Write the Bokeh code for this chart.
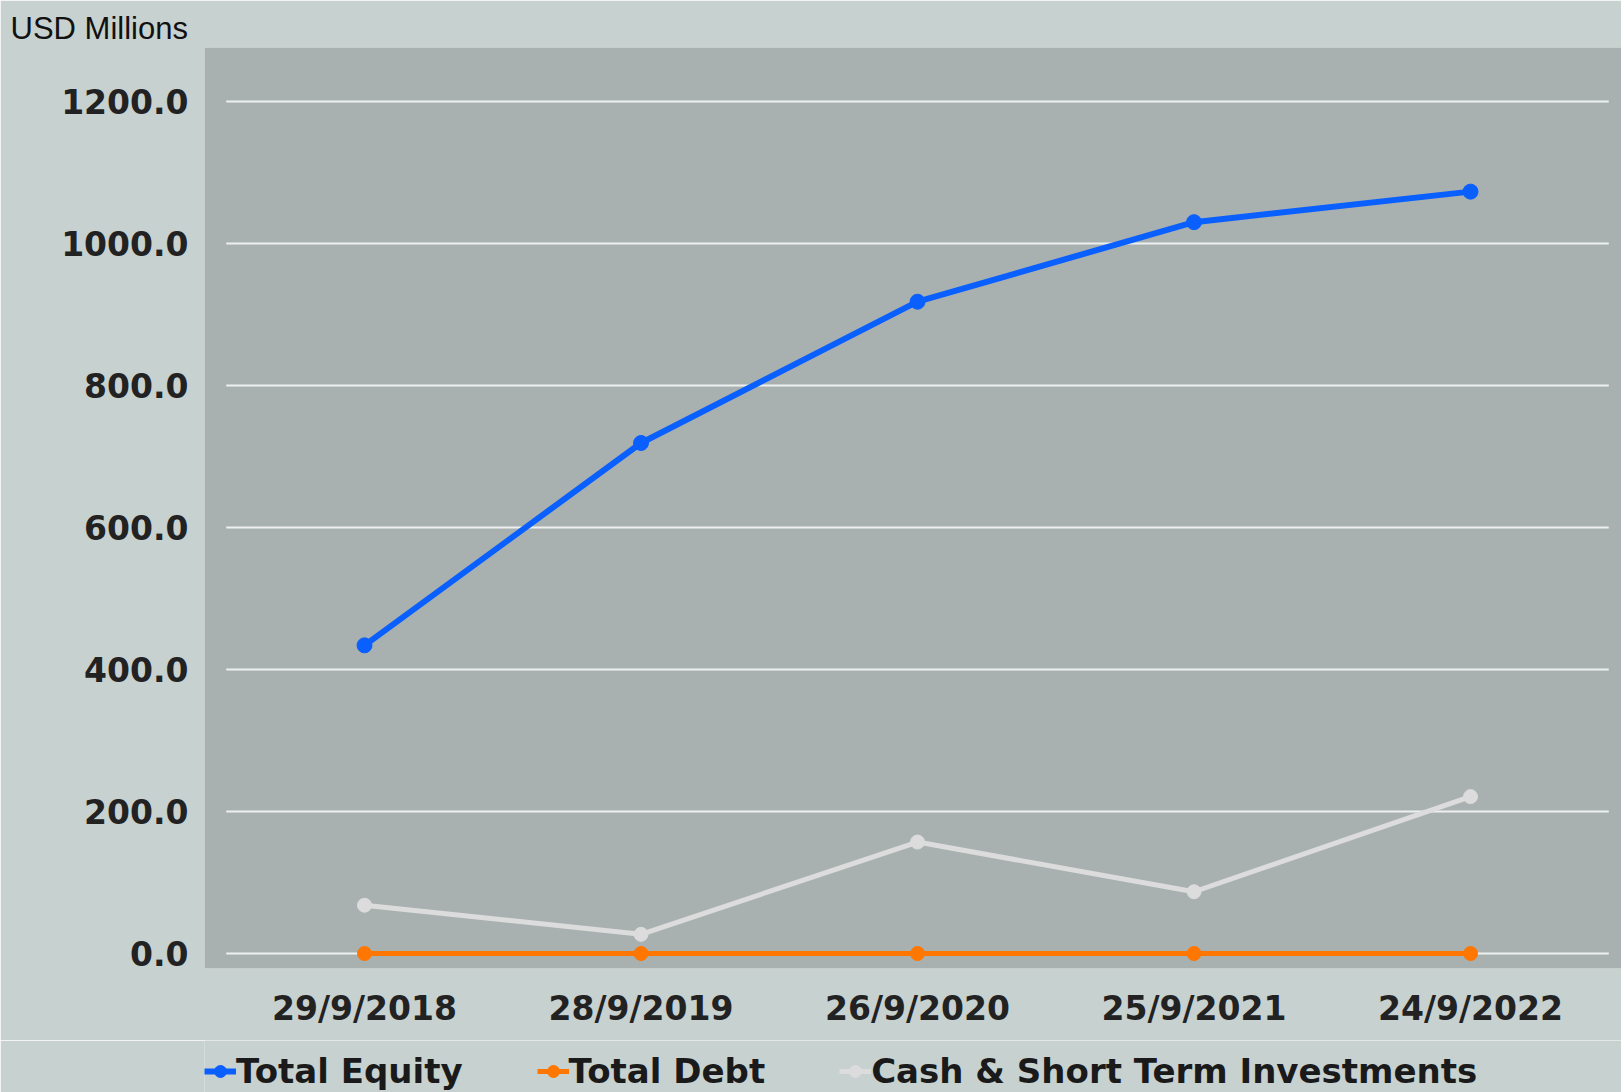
from bokeh.plotting import figure
from bokeh.layouts import column
from bokeh.models import Range1d, FixedTicker, NumeralTickFormatter, Legend, LegendItem
from bokeh.embed import file_html
from bokeh.resources import INLINE

dates = ["29/9/2018", "28/9/2019", "26/9/2020", "25/9/2021", "24/9/2022"]
total_equity = [434, 719, 918, 1030, 1073]
total_debt = [0, 0, 0, 0, 0]
cash_sti = [68, 27, 157, 87, 221]
y_ticks = [0, 200, 400, 600, 800, 1000, 1200]
series_names = ["Total Equity", "Total Debt", "Cash & Short Term Investments"]
series_colors = ["#0a5fff", "#ff7700", "#dcdcdc"]
series_values = [total_equity, total_debt, cash_sti]

OUTER = "#c7d1d0"
FONT = "DejaVu Sans"
xs = list(range(len(dates)))

p = figure(width=1621, height=1040, output_backend="svg", toolbar_location=None,
           x_range=Range1d(-0.5787, len(dates) - 1 + 0.546), y_range=Range1d(-21.1, 1276),
           min_border_left=204, min_border_right=0, min_border_top=47, min_border_bottom=72)
p.frame_width = 1417
p.frame_height = 921
p.border_fill_color = OUTER
p.background_fill_color = "#a9b1b0"
p.outline_line_color = None
p.xgrid.visible = False
p.ygrid.visible = False

p.title.text = "USD Millions"
p.title.align = "left"
p.title.offset = -194
p.title.text_font = "Liberation Sans"
p.title.text_font_style = "normal"
p.title.text_font_size = "31px"
p.title.text_color = "#111111"
p.title.standoff = 4

# gridlines spanning the category extent
p.segment(x0=[-0.5] * len(y_ticks), x1=[len(dates) - 0.5] * len(y_ticks), y0=y_ticks, y1=y_ticks,
          line_color="#eef0f0", line_width=2)

p.yaxis.ticker = FixedTicker(ticks=y_ticks)
p.yaxis.formatter = NumeralTickFormatter(format="0.0")
p.xaxis.ticker = FixedTicker(ticks=xs)
p.xaxis.major_label_overrides = {i: d for i, d in enumerate(dates)}
for ax in (p.xaxis[0], p.yaxis[0]):
    ax.axis_line_color = None
    ax.major_tick_line_color = None
    ax.minor_tick_line_color = None
    ax.major_tick_out = 0
    ax.major_tick_in = 0
    ax.major_label_text_font = FONT
    ax.major_label_text_font_style = "bold"
    ax.major_label_text_font_size = "33px"
    ax.major_label_text_color = "#222222"
p.yaxis.major_label_standoff = 16
p.xaxis.major_label_standoff = 20

widths = [6, 5, 5]
sizes = [15, 14, 14]
for i in (2, 1, 0):
    p.line(xs, series_values[i], line_color=series_colors[i], line_width=widths[i])
    p.scatter(xs, series_values[i], size=sizes[i], fill_color=series_colors[i], line_color=series_colors[i])

# legend strip below the chart (its own renderers sit outside its visible range)
lg = figure(width=1621, height=52, output_backend="svg", toolbar_location=None,
            x_range=Range1d(0, len(dates) - 1), y_range=Range1d(-2, -1),
            min_border_left=0, min_border_right=0, min_border_top=0, min_border_bottom=0)
lg.axis.visible = False
lg.grid.visible = False
lg.outline_line_color = None
lg.border_fill_color = OUTER
lg.background_fill_color = OUTER

items = []
for name, col, vals, w in zip(series_names, series_colors, series_values, widths):
    rl = lg.line(xs, vals, line_color=col, line_width=w)
    rm = lg.scatter(xs, vals, size=14, fill_color=col, line_color=col)
    items.append(LegendItem(label=name, renderers=[rl, rm]))

legend = Legend(items=items, orientation="horizontal", location=(0, 1))
legend.background_fill_alpha = 0
legend.border_line_color = None
legend.padding = 0
legend.margin = 0
legend.spacing = 74
legend.label_standoff = 0
legend.glyph_width = 32
legend.glyph_height = 30
legend.label_height = 30
legend.label_text_font = FONT
legend.label_text_font_style = "bold"
legend.label_text_font_size = "34px"
legend.label_text_color = "#1a1a1a"
lg.add_layout(legend, "center")

layout = column(p, lg, spacing=0)
open("out.html", "w").write(file_html(layout, INLINE))
